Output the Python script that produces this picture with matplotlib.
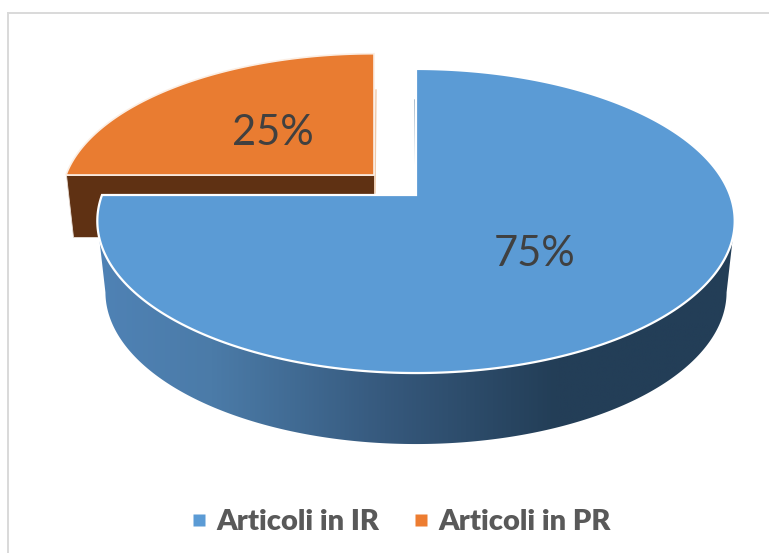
import numpy as np
from matplotlib import pyplot as plt
from matplotlib.colors import LinearSegmentedColormap
from matplotlib.lines import Line2D
from matplotlib.patches import Polygon

categories = ['Articoli in IR', 'Articoli in PR']
shares = [75, 25]
labels = ['75%', '25%']

plt.rcParams['font.family'] = ['Lato', 'DejaVu Sans']

BLUE = '#5b9bd5'
ORANGE = '#ed7d31'
TOP_ORANGE = '#e97c31'
BROWN = '#5f3113'
FRAME = '#d9d9d9'


def rim(start, end, x0, y0, a, b, k=0.171, n=300):
    # angle is clockwise from the top of the pie, k gives the perspective
    theta = np.radians(np.linspace(start, end, n))
    x_c = np.sin(theta)
    y_c = np.cos(theta)
    return np.column_stack((x0 + a * x_c / (1 + k * y_c),
                            y0 - b * y_c / (1 + k * y_c)))


def slice_points(start, end, x0, y0, a, b):
    return np.vstack(([[x0, y0]], rim(start, end, x0, y0, a, b)))


fig = plt.figure(figsize=(7.69, 5.53), dpi=100)
ax = fig.add_axes([0, 0, 1, 1])

ir_end = 360 * shares[0] / sum(shares)
pr_end = ir_end + 360 * shares[1] / sum(shares)

# frame of the chart, only top and left are in the crop
ax.plot([8, 8], [553, 13], color=FRAME, lw=1.4)
ax.plot([8, 769], [13, 13], color=FRAME, lw=1.4)

# exploded orange slice, its cut face and its thin side
or_x, or_y, or_a, or_b = 374, 175, 308, 142
left_pt = rim(ir_end, ir_end, or_x, or_y, or_a, or_b, n=1)[0]
ax.add_patch(Polygon([left_pt, [or_x, or_y], [or_x, or_y + 62],
                      [left_pt[0] + 7, left_pt[1] + 62]],
                     fc=BROWN, ec='#e8ded6', lw=0.6, zorder=2))
ax.plot([376, 375], [90, 193], color='#f0c9a8', lw=1, zorder=2)
ax.add_patch(Polygon(slice_points(ir_end, pr_end, or_x, or_y, or_a, or_b),
                     fc=TOP_ORANGE, ec='#fbeee4', lw=1.2, zorder=3))

# blue slice, side with gradient first then the top
bl_x, bl_y, bl_a, bl_b = 416, 195, 314, 147.6
side = np.vstack((rim(100, 260, bl_x, bl_y, bl_a, bl_b),
                  rim(260, 100, bl_x, bl_y + 71, bl_a - 8, bl_b)))
side_patch = Polygon(side, fc='none', ec='none', transform=ax.transData)
ax.add_patch(side_patch)
side_cmap = LinearSegmentedColormap.from_list(
    'side', [(0, '#4f82b5'), (0.18, '#4b7ba8'), (0.45, '#36597d'),
             (0.72, '#233e57'), (1, '#233e57')])
grad = ax.imshow(np.linspace(0, 1, 400)[None, :], cmap=side_cmap,
                 extent=(97, 736, 450, 200), aspect='auto', zorder=4)
grad.set_clip_path(side_patch)

ax.plot([415, 416], [100, 193], color='#7f9ab3', lw=1, zorder=4)
ax.add_patch(Polygon(slice_points(0, ir_end, bl_x, bl_y, bl_a, bl_b),
                     fc=BLUE, ec='white', lw=1.6, zorder=5))

ax.text(535, 254, labels[0], fontsize=30, color='#404040',
        ha='center', va='center', zorder=6)
ax.text(273, 133, labels[1], fontsize=30, color='#404040',
        ha='center', va='center', zorder=6)

handles = [Line2D([], [], ls='none', marker='s', ms=8.5, mec='none', color=BLUE),
           Line2D([], [], ls='none', marker='s', ms=8.5, mec='none', color=ORANGE)]
ax.legend(handles, categories, loc='center', bbox_to_anchor=(399 / 769, 1 - 522 / 553),
          ncol=2, frameon=False, labelcolor='#595959',
          prop={'weight': 'heavy', 'size': 21}, handlelength=0.8,
          handletextpad=0.2, columnspacing=1.03)

ax.set_xlim(0, 769)
ax.set_ylim(553, 0)
ax.axis('off')

fig.savefig('out.png', dpi=100)
